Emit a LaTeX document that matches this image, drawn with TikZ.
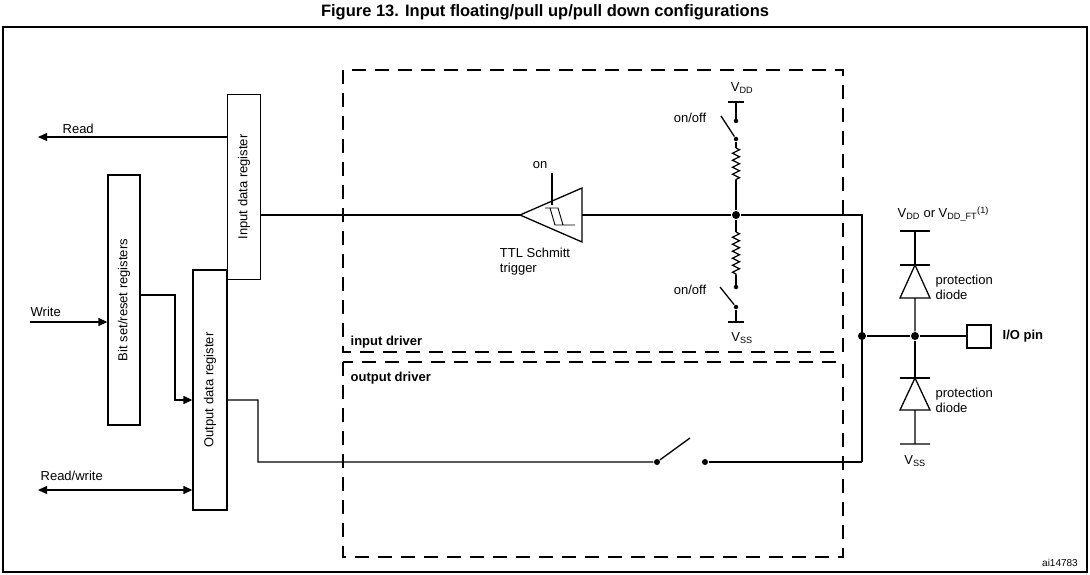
\documentclass[tikz,border=0pt]{standalone}
\usepackage{fontspec}
\setmainfont{Liberation Sans}
\usetikzlibrary{arrows.meta,decorations.pathmorphing}
\newcommand{\lblfont}{\fontsize{13}{15}\selectfont}
\tikzstyle{register} = [draw, rectangle, rotate=90, font=\lblfont, inner sep=0pt]
\tikzstyle{driver} = [draw, dashed, dash pattern=on 14pt off 9pt]
\tikzstyle{lbl} = [font=\lblfont, inner sep=0pt]
\tikzstyle{dot} = [circle, fill, inner sep=0pt, minimum size=8pt]
\tikzstyle{sdot} = [circle, fill, inner sep=0pt, minimum size=4.5pt]
\tikzstyle{resistor} = [decorate, decoration={zigzag, segment length=7pt, amplitude=3.5pt}]

\begin{document}
\begin{tikzpicture}[x=1pt, y=-1pt, line width=1.3pt, >={Triangle[length=9pt,width=8pt]}]
    \useasboundingbox (0,0) rectangle (1090,575);
    \node[font=\bfseries\fontsize{16.5}{18}\selectfont] (T) at (545,12) {Figure 13. Input floating/pull up/pull down configurations};
    \draw (3,27) rectangle (1087,572);
    % drivers
    \draw[driver] (343,70) rectangle (843,352);
    \draw[driver] (343,362) rectangle (843,557);
    \node[lbl, anchor=west, font=\lblfont\bfseries] (ID) at (350,342) {input driver};
    \node[lbl, anchor=west, font=\lblfont\bfseries] (OD) at (350,378) {output driver};
    % registers
    \node[register, minimum width=185pt, minimum height=33pt] (IR) at (244,187) {Input data register};
    \node[register, minimum width=250pt, minimum height=32pt] (BR) at (124,300) {Bit set/reset registers};
    \node[register, minimum width=240pt, minimum height=34pt] (OR) at (210,390) {Output data register};
    \coordinate (RD) at (38,137);
    \coordinate (WR) at (30,322);
    \coordinate (RW) at (38,490);
    \draw[->] (IR.north |- RD) -- (RD);
    \node[lbl, anchor=west] (RDL) at (62,129) {Read};
    \draw[->] (WR) -- (BR.north |- WR);
    \node[lbl, anchor=west] (WRL) at (30,312) {Write};
    \draw[->] (BR.south |- 0,295) -- (175,295) -- (175,400) -- (OR.north |- 0,400);
    \draw[<->] (RW) -- (OR.north |- RW);
    \node[lbl, anchor=west] (RWL) at (40,476) {Read/write};
    % schmitt trigger
    \coordinate (ST) at (520,215);
    \draw (ST) -- (582,188) -- (582,242) -- cycle;
    \draw (552,173) -- (552,205);
    \draw[line width=0.9pt] (545,208) -- (558,208) -- (563,225) -- (575,225) (550,208) -- (555,225) -- (563,225);
    \node[lbl] (ON) at (540,165) {on};
    \node[lbl, align=left] (STL) at (535,262) {TTL Schmitt\\trigger};
    \node[dot] (N1) at (736,215) {};
    \node[dot] (N2) at (862,336) {};
    \node[dot] (N3) at (915,336) {};
    \draw (IR.south |- ST) -- (ST);
    \draw (582,215) -- (N1) -- (862,215) -- (862,462);
    % pull up
    \draw (728,102) -- (744,102) (736,102) -- (736,121);
    \node[sdot] (U1) at (736,121) {};
    \node[sdot] (U2) at (736,139) {};
    \draw (U2) -- (721,116);
    \draw (U2) -- (736,148);
    \draw[resistor] (736,148) -- (736,180);
    \draw (736,180) -- (N1);
    \node[lbl] (VDD) at (742,88) {V\textsubscript{DD}};
    \node[lbl] (UL) at (690,118) {on/off};
    % pull down
    \draw (N1) -- (736,232);
    \draw[resistor] (736,232) -- (736,275);
    \draw (736,275) -- (736,287);
    \node[sdot] (D1) at (736,287) {};
    \node[sdot] (D2) at (736,307) {};
    \draw (D2) -- (720,287);
    \draw (D2) -- (736,322) (728,322) -- (744,322);
    \node[lbl] (VSS) at (742,338) {V\textsubscript{SS}};
    \node[lbl] (DL) at (690,290) {on/off};
    % output path
    \node[sdot, minimum size=6pt] (S1) at (657,462) {};
    \node[sdot, minimum size=6pt] (S2) at (705,462) {};
    \draw (OR.south |- 0,400) -- (258,400) -- (258,462) -- (S1) -- (690,438);
    \draw (S2) -- (862,462);
    % protection
    \draw (N2) -- (N3) -- (967,336);
    \draw (967,325) rectangle (991,348);
    \node[lbl, anchor=west, font=\lblfont\bfseries] (PIN) at (1002,336) {I/O pin};
    \draw (900,231) -- (930,231) (915,231) -- (915,265) (900,265) -- (930,265);
    \draw (915,265) -- (900,298) -- (930,298) -- cycle (915,298) -- (N3);
    \draw (N3) -- (915,378) (900,378) -- (930,378);
    \draw (915,378) -- (900,410) -- (930,410) -- cycle (915,410) -- (915,444) (900,444) -- (930,444);
    \node[lbl, anchor=west] (VFT) at (897,214) {V\textsubscript{DD} or V\textsubscript{DD\_FT}\textsuperscript{(1)}};
    \node[lbl, anchor=west, align=left] (P1) at (935,287) {protection\\diode};
    \node[lbl, anchor=west, align=left] (P2) at (935,400) {protection\\diode};
    \node[lbl] (VSS2) at (915,461) {V\textsubscript{SS}};
    \node[lbl, font=\fontsize{10}{12}\selectfont] (AI) at (1060,563) {ai14783};
\end{tikzpicture}
\end{document}
